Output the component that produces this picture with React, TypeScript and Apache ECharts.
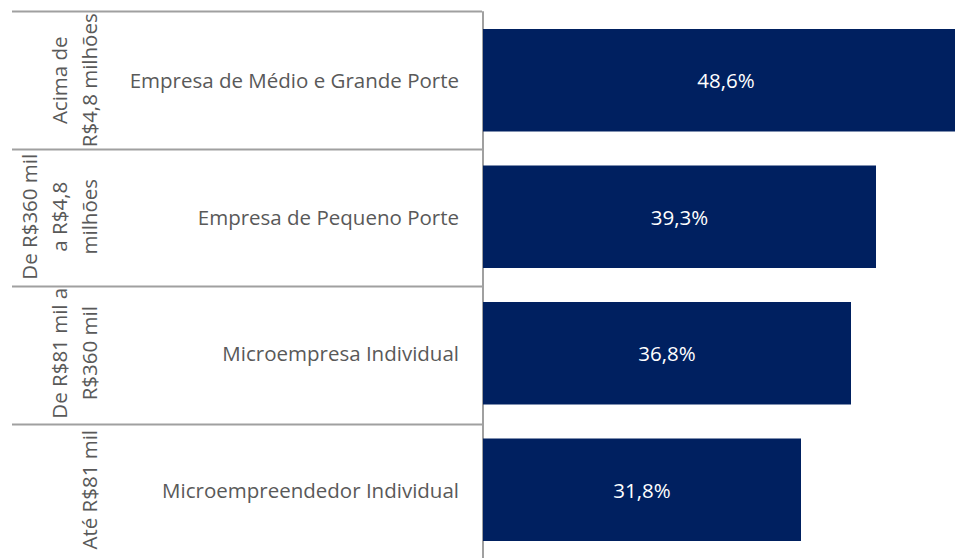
import React, { useEffect, useRef } from "react";
import * as echarts from "echarts";

const categories = [
  "Empresa de Médio e Grande Porte",
  "Empresa de Pequeno Porte",
  "Microempresa Individual",
  "Microempreendedor Individual",
];
const values = [48.6, 39.3, 36.8, 31.8];
const groupLabels = [
  ["Acima de", "R$4,8 milhões"],
  ["De R$360 mil", "a R$4,8", "milhões"],
  ["De R$81 mil a", "R$360 mil"],
  ["Até R$81 mil"],
];

const FONT = "'Open Sans', 'Noto Sans', sans-serif";
const FS = 20.5;
const GRAY = "#595959";
const LINE = "#a0a0a0";
const GRID_LEFT = 483;
const GRID_TOP = 12;
const GRID_H = 550;
const GRID_W = 500;

export default function App() {
  const ref = useRef<HTMLDivElement>(null);
  useEffect(() => {
    if (!ref.current) return;
    const chart = echarts.init(ref.current, null, { renderer: "svg" });
    chart.setOption({
      animation: false,
      grid: { left: GRID_LEFT, top: GRID_TOP, width: GRID_W, height: GRID_H, containLabel: false },
      xAxis: {
        type: "value",
        min: 0,
        max: 50,
        show: false,
      },
      yAxis: {
        type: "category",
        data: categories,
        inverse: true,
        axisLine: { show: true, lineStyle: { color: LINE, width: 2 } },
        axisTick: { show: false },
        axisLabel: {
          margin: 24,
          color: GRAY,
          fontSize: FS,
          fontFamily: FONT,
          align: "right",
        },
        splitLine: { show: false },
      },
      series: [
        {
          type: "bar",
          data: values,
          barWidth: "75%",
          itemStyle: { color: "#002060" },
          label: {
            show: true,
            position: "inside",
            color: "#ffffff",
            fontSize: FS,
            fontFamily: FONT,
            formatter: (p: any) => p.value.toFixed(1).replace(".", ",") + "%",
          },
        },
      ],
    });

    const band = GRID_H / categories.length;
    const graphics: any[] = [];
    const axisX = GRID_LEFT - 1;
    for (let i = 0; i < categories.length; i++) {
      const yb = Math.round(GRID_TOP + band * i) - 0.5;
      graphics.push({
        type: "line",
        shape: { x1: 12, y1: yb, x2: axisX, y2: yb },
        style: { stroke: LINE, lineWidth: 2 },
      });
      const cy = chart.convertToPixel({ yAxisIndex: 0 }, categories[i]) as number;
      const lines = groupLabels[i];
      lines.forEach((t, j) => {
        const x = 89 - (lines.length - 1 - j) * 30;
        graphics.push({
          type: "text",
          x,
          y: cy,
          rotation: Math.PI / 2,
          style: {
            text: t,
            fill: GRAY,
            fontSize: FS,
            fontFamily: FONT,
            align: "center",
            verticalAlign: "middle",
          },
        });
      });
    }
    chart.setOption({ graphic: graphics });
    return () => chart.dispose();
  }, []);
  return (
    <div style={{ position: "fixed", left: 0, top: 0, width: 955, height: 558, overflow: "hidden", background: "#fff" }}>
      <div ref={ref} style={{ width: 1000, height: 558 }} />
    </div>
  );
}
